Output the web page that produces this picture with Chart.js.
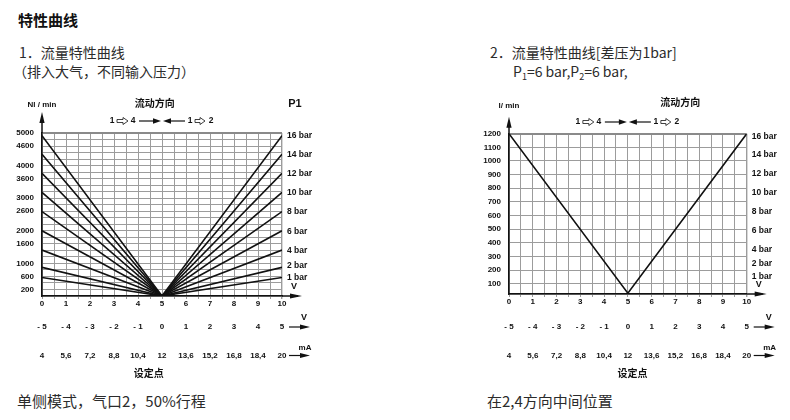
<!DOCTYPE html>
<html><head><meta charset="utf-8">
<script src="https://cdn.jsdelivr.net/npm/chart.js@4"></script>
<style>
html,body{margin:0;padding:0;background:#fff;width:790px;height:420px;overflow:hidden;}
.t{position:absolute;font-family:"Noto Sans CJK SC",sans-serif;color:#2b2b2b;white-space:nowrap;line-height:1;}
.s{font-size:9px;position:relative;top:3px;}
canvas{position:absolute;top:0;}
</style></head><body>
<div class="t" style="left:18px;top:12px;font-size:15px;font-weight:bold;color:#111">特性曲线</div>
<div class="t" style="left:19px;top:45px;font-size:14px;">1．流量特性曲线</div>
<div class="t" style="left:13px;top:64px;font-size:14px;">（排入大气，不同输入压力）</div>
<div class="t" style="left:490px;top:45px;font-size:14px;">2．流量特性曲线[差压为1bar]</div>
<div class="t" style="left:513px;top:64px;font-size:14px;">P<span class="s">1</span>=6 bar,P<span class="s">2</span>=6 bar,</div>
<div class="t" style="left:17px;top:393px;font-size:15px;">单侧模式，气口2，50%行程</div>
<div class="t" style="left:487px;top:393px;font-size:15px;">在2,4方向中间位置</div>
<canvas id="c1" width="395" height="420" style="left:0"></canvas>
<canvas id="c2" width="395" height="420" style="left:395px"></canvas>
<script>
// ---- data ----
const xTickLabels = ['0','1','2','3','4','5','6','7','8','9','10'];
const voltLabels = ['- 5','- 4','- 3','- 2','- 1','0','1','2','3','4','5'];
const mALabels = ['4','5,6','7,2','8,8','10,4','12','13,6','15,2','16,8','18,4','20'];
const pressureLabels = ['16 bar','14 bar','12 bar','10 bar','8 bar','6 bar','4 bar','2 bar','1 bar'];
const leftX = [0, 5, 10];
const leftFlowAtEnds = [4920, 4350, 3760, 3180, 2590, 2000, 1410, 880, 570];
const leftFlowAtCenter = 0;
const leftYLabels = [5000, 4600, 4000, 3600, 3000, 2600, 2000, 1600, 1000, 600, 200];
const rightX = [0, 5, 10];
const rightFlow = [1200, 30, 1200];
const rightYLabels = [100,200,300,400,500,600,700,800,900,1000,1100,1200];

const TXT = '#111';
const FONT = '"Liberation Sans", Arial, sans-serif';
const CJK = '"Noto Sans CJK SC", sans-serif';

function head(ctx, x, y, dir, len, hw) {
  ctx.beginPath();
  if (dir === 'r') { ctx.moveTo(x, y); ctx.lineTo(x - len, y - hw); ctx.lineTo(x - len, y + hw); }
  else if (dir === 'l') { ctx.moveTo(x, y); ctx.lineTo(x + len, y - hw); ctx.lineTo(x + len, y + hw); }
  else { ctx.moveTo(x, y); ctx.lineTo(x - hw, y + len); ctx.lineTo(x + hw, y + len); }
  ctx.closePath(); ctx.fill();
}
function seg(ctx, x1, y1, x2, y2) { ctx.beginPath(); ctx.moveTo(x1, y1); ctx.lineTo(x2, y2); ctx.stroke(); }
function hollow(ctx, x0, x1, y) {
  ctx.beginPath();
  ctx.moveTo(x0, y - 1.5); ctx.lineTo(x1 - 5, y - 1.5); ctx.lineTo(x1 - 5, y - 3.5);
  ctx.lineTo(x1, y); ctx.lineTo(x1 - 5, y + 3.5); ctx.lineTo(x1 - 5, y + 1.5); ctx.lineTo(x0, y + 1.5);
  ctx.closePath(); ctx.stroke();
}

const extras = {
  id: 'extras',
  afterDraw(chart, args, o) {
    const ctx = chart.ctx, a = chart.chartArea, xs = chart.scales.x, ys = chart.scales.y;
    ctx.save();
    ctx.strokeStyle = TXT; ctx.fillStyle = TXT; ctx.lineWidth = 1.5;
    // y axis arrow
    seg(ctx, a.left, a.top, a.left, a.top - o.yArrow + 4);
    head(ctx, a.left, a.top - o.yArrow, 'u', 11, 2.6);
    // x axis arrow
    seg(ctx, a.right, a.bottom, a.right + 16, a.bottom);
    head(ctx, a.right + 20, a.bottom, 'r', 12, 2.6);
    ctx.textBaseline = 'middle';
    // unit label
    ctx.font = 'bold 8px ' + FONT; ctx.textAlign = 'center';
    ctx.fillText(o.unit, a.left, o.unitY);
    // V label
    ctx.font = 'bold 9px ' + FONT; ctx.textAlign = 'left';
    ctx.fillText('V', a.right + 9, a.bottom - 9);
    // pressure labels
    ctx.font = 'bold 8.5px ' + FONT; ctx.textAlign = 'left';
    pressureLabels.forEach((lab, i) => {
      const y = o.useScale ? ys.getPixelForValue(leftFlowAtEnds[i])
        : a.bottom - leftFlowAtEnds[i] / 5000 * (a.bottom - a.top);
      ctx.fillText(lab, a.right + 5, y + (i === 7 ? -2 : 0.5));
    });
    // flow title
    ctx.font = 'bold 10px ' + CJK; ctx.textAlign = 'center';
    ctx.fillText('流动方向', xs.getPixelForValue(o.titleX), o.titleY);
    if (o.p1) { ctx.font = 'bold 11px ' + FONT; ctx.fillText('P1', a.right + 13, 104); }
    // flow direction row
    const cx = xs.getPixelForValue(5), fy = o.flowY;
    ctx.font = 'bold 8.5px ' + FONT; ctx.textAlign = 'center';
    ctx.fillText('1', cx - 50, fy); ctx.fillText('4', cx - 29, fy);
    ctx.fillText('1', cx + 28, fy); ctx.fillText('2', cx + 49, fy);
    ctx.lineWidth = 0.8; hollow(ctx, cx - 45, cx - 34, fy); hollow(ctx, cx + 33, cx + 43, fy);
    ctx.lineWidth = 1.2;
    seg(ctx, cx - 23, fy, cx - 8, fy); head(ctx, cx - 1, fy, 'r', 8, 2.8);
    seg(ctx, cx + 8, fy, cx + 23, fy); head(ctx, cx + 1, fy, 'l', 8, 2.8);
    // secondary rows
    ctx.font = 'bold 8px ' + FONT;
    voltLabels.forEach((lab, i) => ctx.fillText(lab, xs.getPixelForValue(i), 327));
    mALabels.forEach((lab, i) => ctx.fillText(lab, xs.getPixelForValue(i), 355.5));
    ctx.lineWidth = 1.2;
    [327, 355.5].forEach(y => { seg(ctx, a.right + 7, y, a.right + 20, y); head(ctx, a.right + 28, y, 'r', 10, 2.4); });
    ctx.font = 'bold 9px ' + FONT; ctx.fillText('V', a.right + 22, 317.5);
    ctx.font = 'bold 8px ' + FONT; ctx.fillText('mA', a.right + 23, 348);
    ctx.font = 'bold 10px ' + CJK; ctx.fillText('设定点', xs.getPixelForValue(o.setX), 373);
    ctx.restore();
  }
};
Chart.register(extras);

function xScale() {
  return {
    type: 'linear', min: 0, max: 10,
    afterBuildTicks: s => { s.ticks = []; for (let i = 0; i <= 20; i++) s.ticks.push({ value: i / 2 }); },
    afterFit: s => { s.height = 14; },
    ticks: { autoSkip: false, maxRotation: 0, padding: 0, color: TXT, font: { family: FONT, size: 8, weight: 'bold' },
      callback: v => Number.isInteger(v) ? xTickLabels[v] : '' },
    grid: { color: '#9c9c9c', lineWidth: c => c.tick && c.tick.value === 10 ? 1.4 : 1, tickLength: 3, drawTicks: true },
    border: { display: true, color: TXT, width: 1.6 }
  };
}
function yScale(min, max, values, labels) {
  return {
    type: 'linear', min, max,
    afterBuildTicks: s => { s.ticks = values.map(v => ({ value: v })); },
    afterFit: s => { s.width = 30; },
    ticks: { autoSkip: false, padding: 8, color: TXT, font: { family: FONT, size: 8, weight: 'bold' },
      callback: v => labels.includes(v) ? String(v) : '' },
    grid: { color: c => c.tick && c.tick.value === max ? '#8a8a8a' : '#9c9c9c',
      lineWidth: c => c.tick && c.tick.value === max ? 2 : 1, drawTicks: false },
    border: { display: true, color: TXT, width: 1.6 }
  };
}

const leftGrid = []; for (let v = 0; v <= 5000; v += 200) leftGrid.push(v);
new Chart(document.getElementById('c1'), {
  type: 'line',
  data: {
    datasets: leftFlowAtEnds.map((v, i) => ({
      label: pressureLabels[i],
      data: leftX.map((x, j) => ({ x, y: j === 1 ? leftFlowAtCenter : v })),
      borderColor: '#111', borderWidth: 1.6, pointRadius: 0, tension: 0, fill: false
    }))
  },
  options: {
    responsive: false, animation: false, devicePixelRatio: 1,
    layout: { padding: { left: 12, right: 113, top: 133, bottom: 110 } },
    plugins: { legend: { display: false }, tooltip: { enabled: false },
      extras: { unit: 'Nl / min', unitY: 105, yArrow: 21, titleX: 4.7, titleY: 103, p1: true, flowY: 121, setX: 4.45, useScale: true } },
    scales: { x: xScale(), y: yScale(0, 5000, leftGrid, leftYLabels) }
  }
});

const rightGrid = [24].concat(rightYLabels);
new Chart(document.getElementById('c2'), {
  type: 'line',
  data: {
    datasets: [{
      label: 'flow',
      data: rightX.map((x, j) => ({ x, y: rightFlow[j] })),
      borderColor: '#111', borderWidth: 1.6, pointRadius: 0, tension: 0, fill: false
    }]
  },
  options: {
    responsive: false, animation: false, devicePixelRatio: 1,
    layout: { padding: { left: 84, right: 43.3, top: 133.7, bottom: 112 } },
    plugins: { legend: { display: false }, tooltip: { enabled: false },
      extras: { unit: 'l/ min', unitY: 106, yArrow: 17, titleX: 7.2, titleY: 102, p1: false, flowY: 122, setX: 5.2, useScale: false } },
    scales: { x: xScale(), y: yScale(24, 1200, rightGrid, rightYLabels) }
  }
});
</script>
</body></html>
